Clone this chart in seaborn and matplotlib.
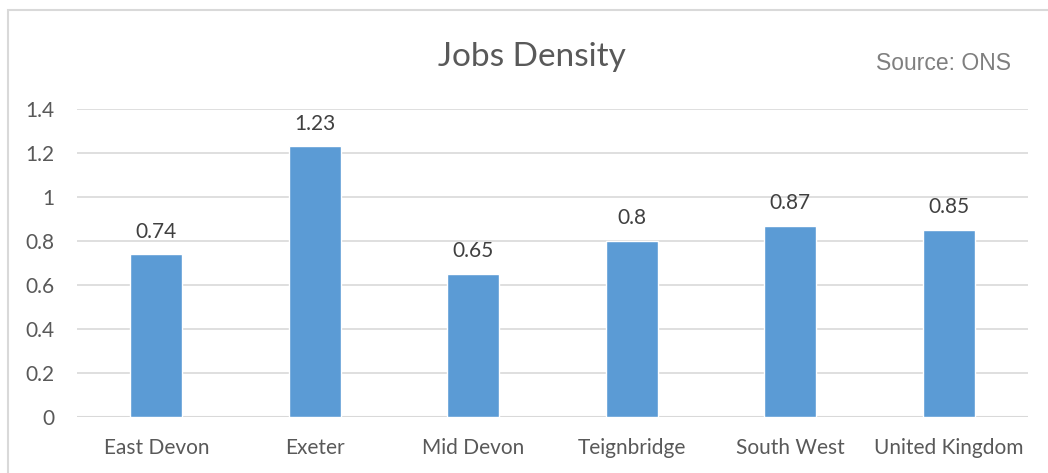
import matplotlib
matplotlib.use("Agg")
import matplotlib.pyplot as plt
import seaborn as sns
import pandas as pd
from matplotlib.patches import Rectangle

# Jobs density by area
areas = ["East Devon", "Exeter", "Mid Devon", "Teignbridge", "South West", "United Kingdom"]
density = [0.74, 1.23, 0.65, 0.8, 0.87, 0.85]
density_labels = ["0.74", "1.23", "0.65", "0.8", "0.87", "0.85"]
y_ticks = [0, 0.2, 0.4, 0.6, 0.8, 1.0, 1.2, 1.4]
y_tick_labels = ["0", "0.2", "0.4", "0.6", "0.8", "1", "1.2", "1.4"]

sns.set_style("white")
plt.rcParams["font.family"] = ["Lato", "DejaVu Sans"]

TEXT = "#595959"
BAR = "#5B9BD5"
GRID = "#D9D9D9"

df = pd.DataFrame({"area": areas, "density": density})

fig = plt.figure(figsize=(10.48, 4.73), dpi=100)
ax = fig.add_axes([0.0735, 0.1184, 0.9075, 0.6512])

sns.barplot(data=df, x="area", y="density", color=BAR, width=0.33,
            saturation=1, ax=ax, zorder=3)

ax.set_ylim(0, 1.4)
ax.set_yticks(y_ticks)
ax.set_yticklabels(y_tick_labels)
ax.yaxis.grid(True, color=GRID, linewidth=1.2, zorder=0)
ax.set_axisbelow(True)
for s in ["top", "right", "left", "bottom"]:
    ax.spines[s].set_visible(False)
ax.axhline(0, color=GRID, linewidth=1.5, zorder=1)
ax.tick_params(axis="both", length=0, labelsize=15, colors=TEXT)
ax.tick_params(axis="y", pad=16)
ax.tick_params(axis="x", pad=15)
ax.set_xlabel("")
ax.set_ylabel("")

for i, (v, lab) in enumerate(zip(density, density_labels)):
    ax.annotate(lab, (i, v), xytext=(0, 9), textcoords="offset points",
                ha="center", va="bottom", fontsize=15, color="#404040")

fig.text(0.508, 0.88, "Jobs Density", ha="center", va="center",
         fontsize=24, color=TEXT)
fig.text(0.9, 0.865, "Source: ONS", ha="center", va="center",
         fontsize=16.5, color="#7F7F7F", family=["Liberation Sans", "DejaVu Sans"])

# outer chart frame
fig.patches.append(Rectangle((8 / 1048, -0.05), 1.1, (473 - 10) / 473 + 0.05,
                             transform=fig.transFigure, fill=False,
                             edgecolor="#D9D9D9", linewidth=1.5))

fig.savefig("out.png", dpi=100, facecolor="white")
